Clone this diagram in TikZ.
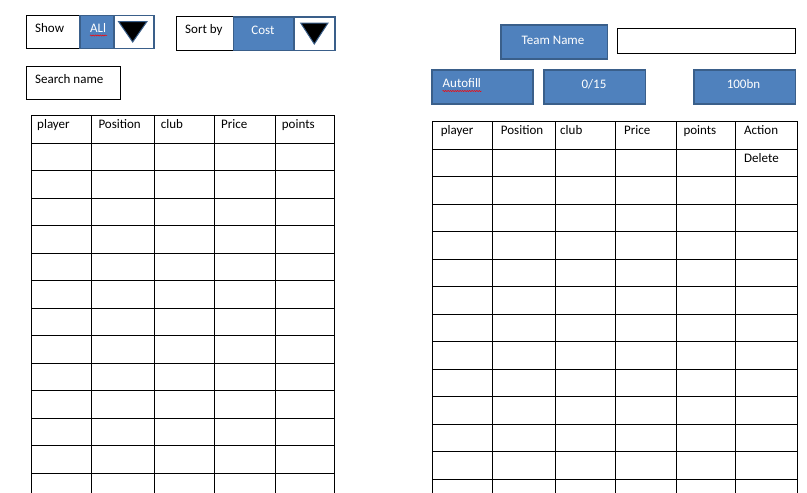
\documentclass[tikz,border=0pt]{standalone}
\usepackage{fontspec}
\setmainfont{Carlito}
\usetikzlibrary{positioning,decorations.pathmorphing}
\definecolor{bfill}{HTML}{4F81BD}
\definecolor{bline}{HTML}{3A5F8A}

\begin{document}
\begin{tikzpicture}[x=1pt, y=-1pt,
    box/.style={draw=black, fill=white, line width=0.9pt, anchor=north west, inner sep=0pt},
    btn/.style={draw=bline, fill=bfill, line width=1.4pt, anchor=north west, inner sep=0pt},
    arr/.style={draw=bline, fill=white, line width=1.4pt, anchor=north west, inner sep=0pt},
    txt/.style={inner sep=0pt, font=\fontsize{13}{15}\selectfont},
    wtxt/.style={txt, text=white},
    squiggle/.style={red, line width=0.5pt, decorate, decoration={snake, amplitude=0.6pt, segment length=2.4pt}},
    gridline/.style={line width=0.9pt}]
                        \useasboundingbox[fill=white] (0,0) rectangle (807,493);

                        % filter bar
                        \node[box, minimum width=53, minimum height=33] (show) at (26.3,15) {};
                        \node[btn, minimum width=34, minimum height=33] (all) at (79.3,15) {};
                        \node[arr, minimum width=40, minimum height=33] (showarr) at (113.3,15) {};
                        \filldraw[fill=black, draw=bline, line width=1pt] (118.5,21.5) -- (147,21.5) -- (132.7,42) -- cycle;
                        \node[txt, anchor=base west] (showlbl) at (35,32.5) {Show};
                        \node[wtxt, anchor=base west] (alllbl) at (90,32.5) {ALl};
                        \draw[squiggle] (90,35.5) -- (107,35.5);

                        \node[box, minimum width=56.5, minimum height=33.5] (sort) at (176.3,16.3) {};
                        \node[btn, minimum width=60.5, minimum height=33.5] (cost) at (232.8,16.3) {};
                        \node[arr, minimum width=41, minimum height=33.5] (sortarr) at (293.3,16.3) {};
                        \filldraw[fill=black, draw=bline, line width=1pt] (300.7,23) -- (328,23) -- (314.3,44) -- cycle;
                        \node[txt, anchor=base west] (sortlbl) at (185,33.5) {Sort by};
                        \node[wtxt, anchor=base] (costlbl) at (263,34) {Cost};

                        \node[box, minimum width=93.4, minimum height=33] (search) at (26.3,66.3) {};
                        \node[txt, anchor=base west] (searchlbl) at (35,83) {Search name};

                        % team bar
                        \node[btn, minimum width=106.4, minimum height=34] (team) at (500.3,24.3) {};
                        \node[wtxt, anchor=base] (teamlbl) at (553,44) {Team Name};
                        \node[box, minimum width=178, minimum height=25] (teamfield) at (616.7,28.3) {};

                        \node[btn, minimum width=101, minimum height=34] (autofill) at (431.3,69.3) {};
                        \node[wtxt, anchor=base west] (autofilllbl) at (442.5,87.5) {Autofill};
                        \draw[squiggle] (442.5,91) -- (481.5,91);
                        \node[btn, minimum width=101.4, minimum height=34] (count) at (543.3,69.3) {};
                        \node[wtxt, anchor=base] (countlbl) at (594,88) {0/15};
                        \node[btn, minimum width=101.4, minimum height=34] (budget) at (693.3,69.3) {};
                        \node[wtxt, anchor=base] (budgetlbl) at (743.5,88) {100bn};

                        % player list
                        \foreach \x in {31,91,154,214,275,334}
                            \draw[gridline] (\x,115) -- (\x,493);
                        \draw[gridline] (31,115) -- (334,115);
                        \foreach \i in {0,...,12}
                            \draw[gridline] (31,{143+27.5*\i}) -- (334,{143+27.5*\i});
                        \node[txt, anchor=base west] (lplayer) at (37,128) {player};
                        \node[txt, anchor=base west] (lpos) at (98.3,128) {Position};
                        \node[txt, anchor=base west] (lclub) at (160.7,128) {club};
                        \node[txt, anchor=base west] (lprice) at (221,128) {Price};
                        \node[txt, anchor=base west] (lpoints) at (281.7,128) {points};

                        % squad list
                        \foreach \x in {432,492.3,555,615,676.3,735.7,797.7}
                            \draw[gridline] (\x,121) -- (\x,493);
                        \draw[gridline] (432,121) -- (797.7,121);
                        \foreach \i in {0,...,12}
                            \draw[gridline] (432,{149+27.5*\i}) -- (797.7,{149+27.5*\i});
                        \node[txt, anchor=base west] (rplayer) at (440.7,134) {player};
                        \node[txt, anchor=base west] (rpos) at (500.7,134) {Position};
                        \node[txt, anchor=base west] (rclub) at (560,134) {club};
                        \node[txt, anchor=base west] (rprice) at (624,134) {Price};
                        \node[txt, anchor=base west] (rpoints) at (683.3,134) {points};
                        \node[txt, anchor=base west] (raction) at (744,134) {Action};
                        \node[txt, anchor=base west] (rdelete) at (744,162) {Delete};
                    \end{tikzpicture}
\end{document}
